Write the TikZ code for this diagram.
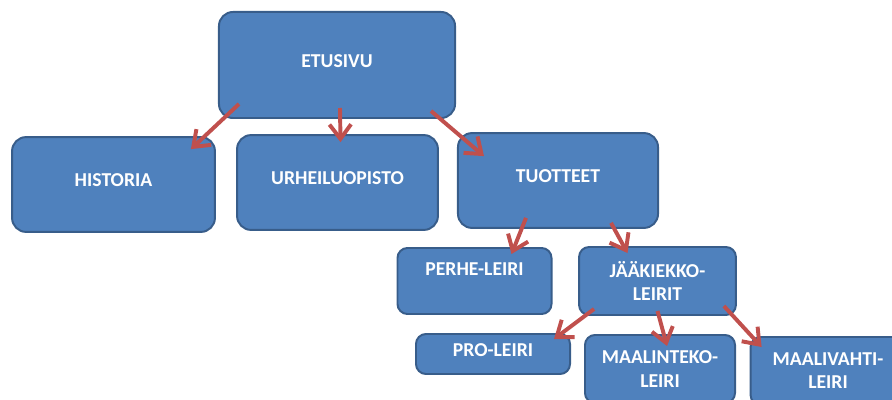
\documentclass[tikz,border=0pt]{standalone}
\usepackage{fontspec}
\setmainfont{Carlito}
\usepackage{tikz}
\usetikzlibrary{arrows.meta}
\definecolor{boxfill}{HTML}{4F81BD}
\definecolor{boxline}{HTML}{385D8A}
\definecolor{arrred}{HTML}{C0504D}

\begin{document}
\begin{tikzpicture}[x=0.025cm,y=-0.025cm,
    box/.style={draw=boxline,fill=boxfill,line width=1.4pt,rounded corners=0.35cm,
        text=white,font=\fontsize{14}{16.5}\selectfont\bfseries,align=center,inner sep=0pt},
    small/.style={rounded corners=0.25cm},
    lift/.style={text height=9pt,text depth=5.7pt},
    arr/.style={draw=arrred,line width=2.8pt,-{Straight Barb[length=3.6mm,width=5.4mm,line width=2.8pt]}}]
    \path[use as bounding box,clip] (0,0) rectangle (892,400);

    \node[box,lift,minimum width=5.9cm,minimum height=2.65cm] (etusivu) at (337,65) {ETUSIVU};
    \node[box,lift,minimum width=5.07cm,minimum height=2.37cm] (historia) at (113.5,184.5) {HISTORIA};
    \node[box,lift,minimum width=5.02cm,minimum height=2.37cm] (urheilu) at (337.5,182.5) {URHEILUOPISTO};
    \node[box,lift,minimum width=5cm,minimum height=2.37cm] (tuotteet) at (558,180.5) {TUOTTEET};

    \node[box,small,minimum width=3.85cm,minimum height=1.65cm] (perhe) at (474.5,281) {PERHE-LEIRI\\\mbox{}};
    \node[box,small,minimum width=3.92cm,minimum height=1.7cm] (jaa) at (657.5,281) {JÄÄKIEKKO-\\LEIRIT};

    \node[box,small,lift,minimum width=3.85cm,minimum height=1cm] (pro) at (493,354) {PRO-LEIRI};
    \node[box,small,minimum width=3.75cm,minimum height=1.7cm] (maalinteko) at (660,369) {MAALINTEKO-\\LEIRI};
    \node[box,small,minimum width=3.87cm,minimum height=1.7cm] (maalivahti) at (828,371) {MAALIVAHTI-\\LEIRI};

    % arrows
    \draw[arr] ([shift={(21,-15)}]etusivu.south west) -- ([shift={(-25,13)}]historia.north east);
    \draw[arr] ([shift={(3,-11)}]etusivu.south) -- ([shift={(3,8)}]urheilu.north);
    \draw[arr] ([shift={(-25,-8)}]etusivu.south east) -- ([shift={(27,24)}]tuotteet.north west);
    \draw[arr] ([shift={(-32,-11)}]tuotteet.south) -- ([shift={(-41,7)}]perhe.north east);
    \draw[arr] ([shift={(-48,-6)}]tuotteet.south east) -- ([shift={(-30,7)}]jaa.north);
    \draw[arr] ([shift={(16,-7)}]jaa.south west) -- ([shift={(-17,6)}]pro.north east);
    \draw[arr] ([shift={(0,-5)}]jaa.south) -- ([shift={(7,12)}]maalinteko.north);
    \draw[arr] ([shift={(-13,-10)}]jaa.south east) -- ([shift={(12,11)}]maalivahti.north west);
\end{tikzpicture}
\end{document}
